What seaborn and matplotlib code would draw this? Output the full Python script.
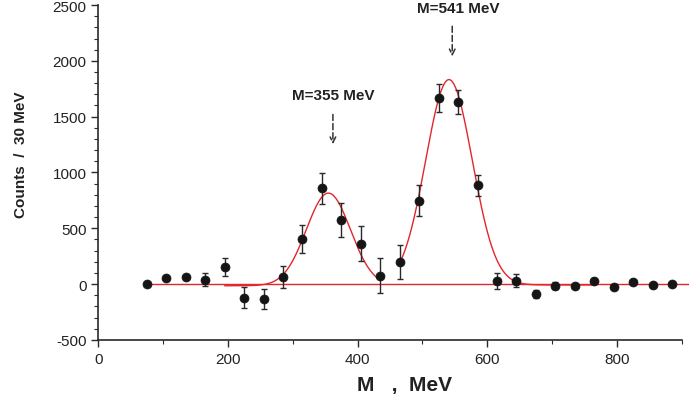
import numpy as np
import pandas as pd
import matplotlib
matplotlib.use("Agg")
import matplotlib.pyplot as plt
from matplotlib.ticker import MultipleLocator
import seaborn as sns

# ====================
# DATOS
# ====================
masa = [75, 105, 135, 165, 195, 225, 255, 285, 315, 345, 375, 405, 435, 465,
        495, 525, 555, 585, 615, 645, 675, 705, 735, 765, 795, 825, 855, 885]
cuentas = [0, 58, 62, 40, 151, -121, -132, 62, 403, 858, 575, 363, 76, 196,
           748, 1667, 1628, 885, 29, 31, -85, -13, -13, 26, -25, 20, -4, -1]
errores = [0, 0, 0, 55, 79, 91, 90, 97, 125, 140, 150, 155, 155, 150,
           140, 127, 108, 94, 72, 56, 36, 28, 0, 0, 0, 0, 0, 0]

# ajustes gaussianos: (amplitud, centro, sigma, fondo, desde, hasta)
pico1 = (830, 355, 34, -15, 195, 435)
pico2 = (1840, 541, 36, -8, 465, 765)

df = pd.DataFrame({"M": masa, "N": cuentas, "err": errores})


def curva(p):
    a, m0, s, b, x0, x1 = p
    x = np.linspace(x0, x1, 300)
    return pd.DataFrame({"M": x, "N": b + a * np.exp(-(x - m0) ** 2 / (2 * s ** 2))})


# ====================
# ESTILO
# ====================
sns.set_style("ticks")
plt.rcParams["font.family"] = ["Liberation Sans", "DejaVu Sans"]
plt.rcParams["axes.unicode_minus"] = False
gris = "#2a2a2a"
rojo = "#e3262b"

fig = plt.figure(figsize=(6.89, 4.02), dpi=100)
ax = fig.add_axes([0.1425, 0.152, 0.847, 0.833])

# linea de cero
ax.plot([75, 915], [0, 0], color=rojo, lw=1.0, clip_on=False, zorder=2)

for p in (pico1, pico2):
    sns.lineplot(data=curva(p), x="M", y="N", ax=ax, color=rojo, lw=1.0, zorder=3)

ax.errorbar(df["M"], df["N"], yerr=df["err"], fmt="none", ecolor=gris,
            elinewidth=1.0, capsize=2.5, capthick=1.0, zorder=4)
sns.scatterplot(data=df, x="M", y="N", ax=ax, color="#151515", s=42,
                edgecolor="#151515", linewidth=0.5, zorder=5)

ax.set_xlim(0, 900)
ax.set_ylim(-500, 2500)
ax.xaxis.set_major_locator(MultipleLocator(200))
ax.xaxis.set_minor_locator(MultipleLocator(100))
ax.yaxis.set_major_locator(MultipleLocator(500))
ax.yaxis.set_minor_locator(MultipleLocator(100))
ax.tick_params(which="major", length=5, width=1, color=gris, labelsize=11,
               labelcolor="#222222", direction="out")
ax.tick_params(which="minor", length=3, width=0.8, color=gris, direction="out")
for lado in ("top", "right"):
    ax.spines[lado].set_visible(False)
for lado in ("left", "bottom"):
    ax.spines[lado].set_color(gris)
    ax.spines[lado].set_linewidth(1.2)

ax.set_xlabel("M   ,  MeV", fontsize=15, fontweight="bold", color="#222222")
ax.xaxis.set_label_coords(0.525, -0.105)
ax.set_ylabel("Counts  /  30 MeV", fontsize=11, fontweight="bold", color="#222222")
ax.yaxis.set_label_coords(-0.12, 0.555)

# anotaciones
flecha = dict(arrowstyle="->", linestyle=(0, (4, 2)), color="#333333", lw=1.1)
ax.annotate("", xy=(362, 1228), xytext=(362, 1545), arrowprops=flecha)
ax.text(362, 1690, "M=355 MeV", ha="center", va="center", fontsize=11,
        fontweight="bold", color="#222222")
ax.annotate("", xy=(546, 2015), xytext=(546, 2335), arrowprops=flecha)
ax.text(555, 2470, "M=541 MeV", ha="center", va="center", fontsize=11,
        fontweight="bold", color="#222222")

fig.savefig("out.png", dpi=100)
